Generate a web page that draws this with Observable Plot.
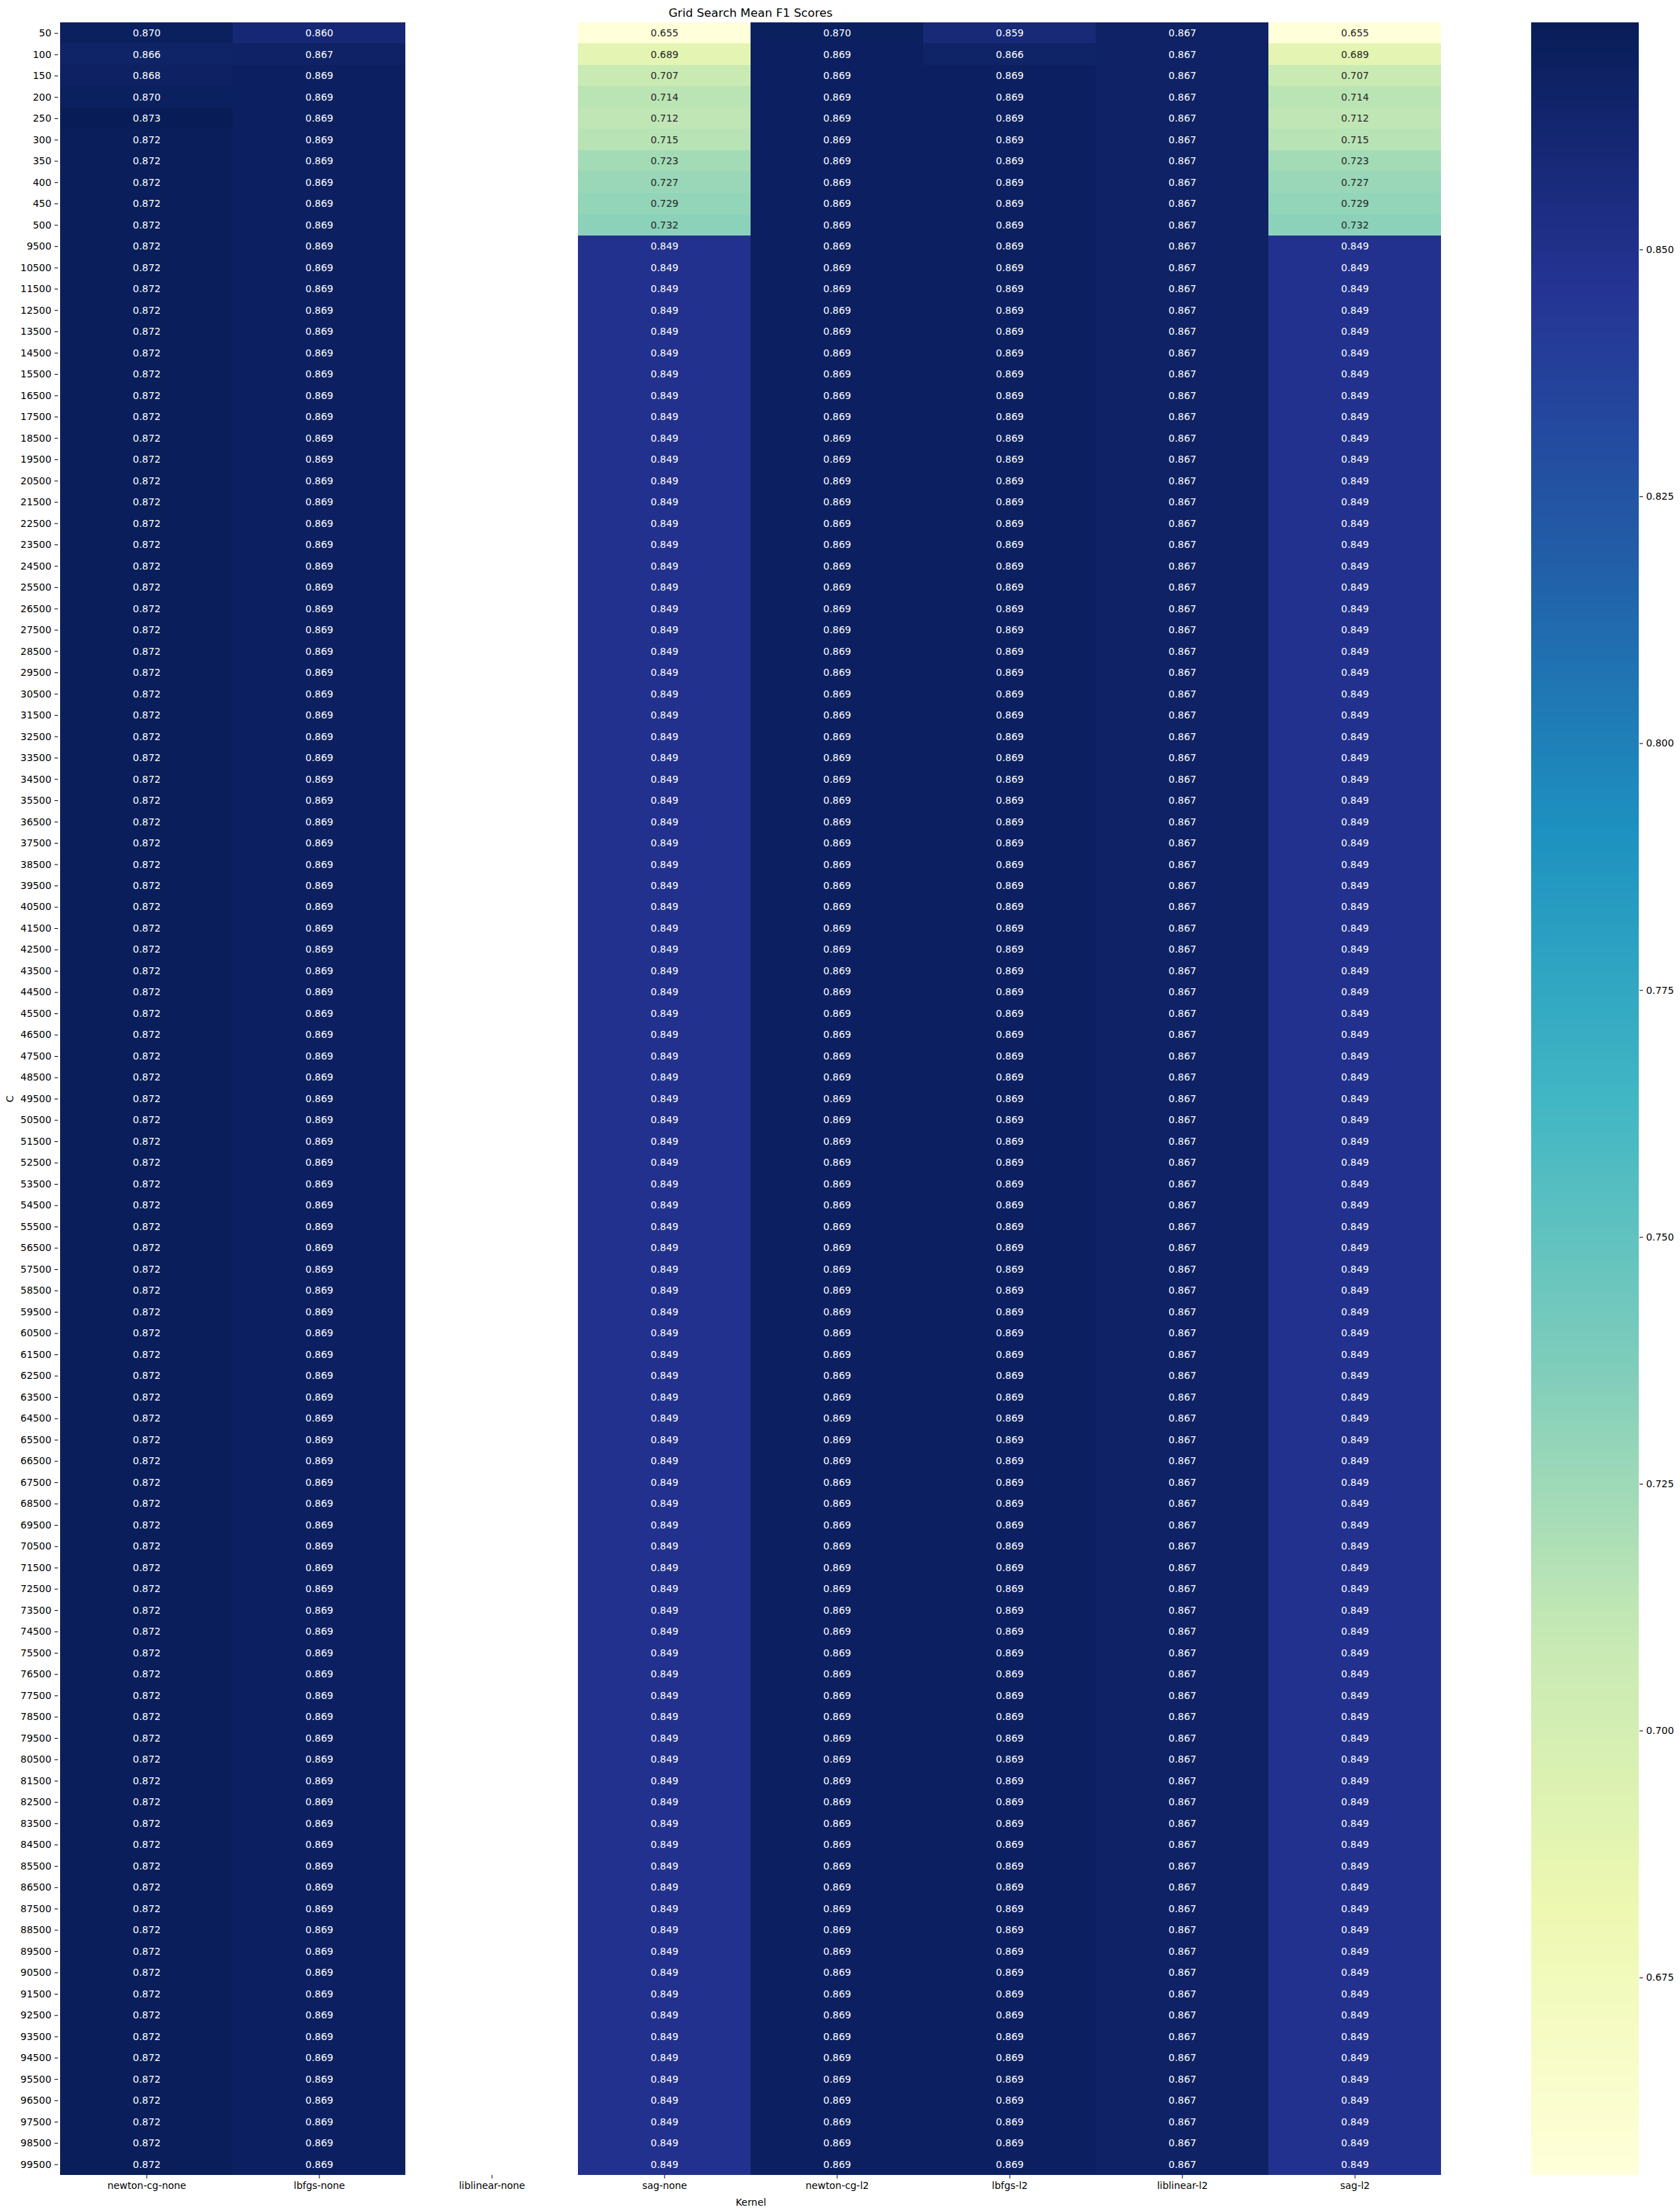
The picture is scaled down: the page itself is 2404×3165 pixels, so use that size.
<!DOCTYPE html>
<html><head><meta charset="utf-8">
<script src="https://cdn.jsdelivr.net/npm/d3@7"></script>
<script src="https://cdn.jsdelivr.net/npm/@observablehq/plot@0.6"></script>
<style>
body{margin:0;background:#fff;}
#wrap{position:relative;width:2404px;height:3165px;font-family:"DejaVu Sans",sans-serif;background:#fff;}
#wrap svg{position:absolute;top:0;}
#title{position:absolute;left:0;width:2148px;top:10px;text-align:center;font-size:16.7px;line-height:1;color:#000;}
</style>
</head><body>
<div id="wrap"><div id="title">Grid Search Mean F1 Scores</div></div>
<script>
const kernels = ["newton-cg-none","lbfgs-none","liblinear-none","sag-none","newton-cg-l2","lbfgs-l2","liblinear-l2","sag-l2"];
const cValues = ["50","100","150","200","250","300","350","400","450","500",
"9500","10500","11500","12500","13500","14500","15500","16500","17500","18500","19500","20500","21500",
"22500","23500","24500","25500","26500","27500","28500","29500","30500","31500","32500","33500","34500",
"35500","36500","37500","38500","39500","40500","41500","42500","43500","44500","45500","46500","47500",
"48500","49500","50500","51500","52500","53500","54500","55500","56500","57500","58500","59500","60500",
"61500","62500","63500","64500","65500","66500","67500","68500","69500","70500","71500","72500","73500",
"74500","75500","76500","77500","78500","79500","80500","81500","82500","83500","84500","85500","86500",
"87500","88500","89500","90500","91500","92500","93500","94500","95500","96500","97500","98500","99500"];

const newtonCgNone = [0.870,0.866,0.868,0.870,0.873,0.872,0.872,0.872,0.872,0.872,
0.872,0.872,0.872,0.872,0.872,0.872,0.872,0.872,0.872,0.872,0.872,0.872,0.872,
0.872,0.872,0.872,0.872,0.872,0.872,0.872,0.872,0.872,0.872,0.872,0.872,0.872,
0.872,0.872,0.872,0.872,0.872,0.872,0.872,0.872,0.872,0.872,0.872,0.872,0.872,
0.872,0.872,0.872,0.872,0.872,0.872,0.872,0.872,0.872,0.872,0.872,0.872,0.872,
0.872,0.872,0.872,0.872,0.872,0.872,0.872,0.872,0.872,0.872,0.872,0.872,0.872,
0.872,0.872,0.872,0.872,0.872,0.872,0.872,0.872,0.872,0.872,0.872,0.872,0.872,
0.872,0.872,0.872,0.872,0.872,0.872,0.872,0.872,0.872,0.872,0.872,0.872,0.872];
const lbfgsNone = [0.860,0.867,0.869,0.869,0.869,0.869,0.869,0.869,0.869,0.869,
0.869,0.869,0.869,0.869,0.869,0.869,0.869,0.869,0.869,0.869,0.869,0.869,0.869,
0.869,0.869,0.869,0.869,0.869,0.869,0.869,0.869,0.869,0.869,0.869,0.869,0.869,
0.869,0.869,0.869,0.869,0.869,0.869,0.869,0.869,0.869,0.869,0.869,0.869,0.869,
0.869,0.869,0.869,0.869,0.869,0.869,0.869,0.869,0.869,0.869,0.869,0.869,0.869,
0.869,0.869,0.869,0.869,0.869,0.869,0.869,0.869,0.869,0.869,0.869,0.869,0.869,
0.869,0.869,0.869,0.869,0.869,0.869,0.869,0.869,0.869,0.869,0.869,0.869,0.869,
0.869,0.869,0.869,0.869,0.869,0.869,0.869,0.869,0.869,0.869,0.869,0.869,0.869];
// liblinear with no penalty produced no scores (empty column in the reference)
const liblinearNone = [];
const sagNone = [0.655,0.689,0.707,0.714,0.712,0.715,0.723,0.727,0.729,0.732,
0.849,0.849,0.849,0.849,0.849,0.849,0.849,0.849,0.849,0.849,0.849,0.849,0.849,
0.849,0.849,0.849,0.849,0.849,0.849,0.849,0.849,0.849,0.849,0.849,0.849,0.849,
0.849,0.849,0.849,0.849,0.849,0.849,0.849,0.849,0.849,0.849,0.849,0.849,0.849,
0.849,0.849,0.849,0.849,0.849,0.849,0.849,0.849,0.849,0.849,0.849,0.849,0.849,
0.849,0.849,0.849,0.849,0.849,0.849,0.849,0.849,0.849,0.849,0.849,0.849,0.849,
0.849,0.849,0.849,0.849,0.849,0.849,0.849,0.849,0.849,0.849,0.849,0.849,0.849,
0.849,0.849,0.849,0.849,0.849,0.849,0.849,0.849,0.849,0.849,0.849,0.849,0.849];
const newtonCgL2 = [0.870,0.869,0.869,0.869,0.869,0.869,0.869,0.869,0.869,0.869,
0.869,0.869,0.869,0.869,0.869,0.869,0.869,0.869,0.869,0.869,0.869,0.869,0.869,
0.869,0.869,0.869,0.869,0.869,0.869,0.869,0.869,0.869,0.869,0.869,0.869,0.869,
0.869,0.869,0.869,0.869,0.869,0.869,0.869,0.869,0.869,0.869,0.869,0.869,0.869,
0.869,0.869,0.869,0.869,0.869,0.869,0.869,0.869,0.869,0.869,0.869,0.869,0.869,
0.869,0.869,0.869,0.869,0.869,0.869,0.869,0.869,0.869,0.869,0.869,0.869,0.869,
0.869,0.869,0.869,0.869,0.869,0.869,0.869,0.869,0.869,0.869,0.869,0.869,0.869,
0.869,0.869,0.869,0.869,0.869,0.869,0.869,0.869,0.869,0.869,0.869,0.869,0.869];
const lbfgsL2 = [0.859,0.866,0.869,0.869,0.869,0.869,0.869,0.869,0.869,0.869,
0.869,0.869,0.869,0.869,0.869,0.869,0.869,0.869,0.869,0.869,0.869,0.869,0.869,
0.869,0.869,0.869,0.869,0.869,0.869,0.869,0.869,0.869,0.869,0.869,0.869,0.869,
0.869,0.869,0.869,0.869,0.869,0.869,0.869,0.869,0.869,0.869,0.869,0.869,0.869,
0.869,0.869,0.869,0.869,0.869,0.869,0.869,0.869,0.869,0.869,0.869,0.869,0.869,
0.869,0.869,0.869,0.869,0.869,0.869,0.869,0.869,0.869,0.869,0.869,0.869,0.869,
0.869,0.869,0.869,0.869,0.869,0.869,0.869,0.869,0.869,0.869,0.869,0.869,0.869,
0.869,0.869,0.869,0.869,0.869,0.869,0.869,0.869,0.869,0.869,0.869,0.869,0.869];
const liblinearL2 = [0.867,0.867,0.867,0.867,0.867,0.867,0.867,0.867,0.867,0.867,
0.867,0.867,0.867,0.867,0.867,0.867,0.867,0.867,0.867,0.867,0.867,0.867,0.867,
0.867,0.867,0.867,0.867,0.867,0.867,0.867,0.867,0.867,0.867,0.867,0.867,0.867,
0.867,0.867,0.867,0.867,0.867,0.867,0.867,0.867,0.867,0.867,0.867,0.867,0.867,
0.867,0.867,0.867,0.867,0.867,0.867,0.867,0.867,0.867,0.867,0.867,0.867,0.867,
0.867,0.867,0.867,0.867,0.867,0.867,0.867,0.867,0.867,0.867,0.867,0.867,0.867,
0.867,0.867,0.867,0.867,0.867,0.867,0.867,0.867,0.867,0.867,0.867,0.867,0.867,
0.867,0.867,0.867,0.867,0.867,0.867,0.867,0.867,0.867,0.867,0.867,0.867,0.867];
const sagL2 = [0.655,0.689,0.707,0.714,0.712,0.715,0.723,0.727,0.729,0.732,
0.849,0.849,0.849,0.849,0.849,0.849,0.849,0.849,0.849,0.849,0.849,0.849,0.849,
0.849,0.849,0.849,0.849,0.849,0.849,0.849,0.849,0.849,0.849,0.849,0.849,0.849,
0.849,0.849,0.849,0.849,0.849,0.849,0.849,0.849,0.849,0.849,0.849,0.849,0.849,
0.849,0.849,0.849,0.849,0.849,0.849,0.849,0.849,0.849,0.849,0.849,0.849,0.849,
0.849,0.849,0.849,0.849,0.849,0.849,0.849,0.849,0.849,0.849,0.849,0.849,0.849,
0.849,0.849,0.849,0.849,0.849,0.849,0.849,0.849,0.849,0.849,0.849,0.849,0.849,
0.849,0.849,0.849,0.849,0.849,0.849,0.849,0.849,0.849,0.849,0.849,0.849,0.849];
const colorbarTicks = [0.675,0.700,0.725,0.750,0.775,0.800,0.825,0.850];

const series = {
  "newton-cg-none": newtonCgNone, "lbfgs-none": lbfgsNone, "liblinear-none": liblinearNone,
  "sag-none": sagNone, "newton-cg-l2": newtonCgL2, "lbfgs-l2": lbfgsL2,
  "liblinear-l2": liblinearL2, "sag-l2": sagL2
};
const cells = [];
for (const k of kernels) {
  series[k].forEach((v, i) => { if (v != null) cells.push({kernel: k, C: cValues[i], value: v}); });
}
const [lo, hi] = d3.extent(cells, d => d.value);
const ylgnbu = ["#ffffd9","#edf8b1","#c7e9b4","#7fcdbb","#41b6c4","#1d91c0","#225ea8","#253494","#081d58"];
const colorOpts = {type: "linear", domain: [lo, hi], interpolate: d3.piecewise(d3.interpolateRgb, ylgnbu)};
const isLight = d => d.value < 0.76;

const FONT = 13.9;
const main = Plot.plot({
  width: 2404, height: 3165,
  marginTop: 32, marginLeft: 83, marginRight: 339, marginBottom: 53,
  style: {fontFamily: "DejaVu Sans", fontSize: FONT + "px", color: "#000", background: "transparent"},
  x: {domain: kernels, padding: 0},
  y: {domain: cValues, padding: 0},
  color: colorOpts,
  marks: [
    Plot.cell(cells, {x: "kernel", y: "C", fill: "value", shapeRendering: "crispEdges"}),
    Plot.text(cells.filter(isLight), {x: "kernel", y: "C", text: d => d.value.toFixed(3), fill: "#262626", fontSize: FONT}),
    Plot.text(cells.filter(d => !isLight(d)), {x: "kernel", y: "C", text: d => d.value.toFixed(3), fill: "#ffffff", fontSize: FONT}),
    Plot.axisX({tickSize: 5, tickPadding: 5, label: "Kernel", labelAnchor: "center", labelOffset: 43, labelArrow: "none", fontSize: FONT}),
    Plot.axisY({tickSize: 5, tickPadding: 5, label: "C", labelAnchor: "center", labelOffset: 74, labelArrow: "none", fontSize: FONT})
  ]
});

const N = 500;
const step = (hi - lo) / N;
const bands = d3.range(N).map(i => lo + i * step);
const bar = Plot.plot({
  width: 213, height: 3165,
  marginTop: 32, marginBottom: 53, marginLeft: 0, marginRight: 59,
  style: {fontFamily: "DejaVu Sans", fontSize: FONT + "px", color: "#000", background: "transparent"},
  x: {domain: [0, 1], axis: null},
  y: {domain: [lo, hi]},
  color: colorOpts,
  marks: [
    Plot.rect(bands, {x1: 0, x2: 1, y1: d => d, y2: d => Math.min(hi, d + step * 1.6), fill: d => d + step / 2, shapeRendering: "crispEdges"}),
    Plot.axisY({anchor: "right", ticks: colorbarTicks, tickFormat: ".3f", tickSize: 5, tickPadding: 5, label: null, fontSize: FONT})
  ]
});
bar.style.left = "2191px";
const wrap = document.getElementById("wrap");
wrap.appendChild(main);
wrap.appendChild(bar);
</script>
</body></html>
